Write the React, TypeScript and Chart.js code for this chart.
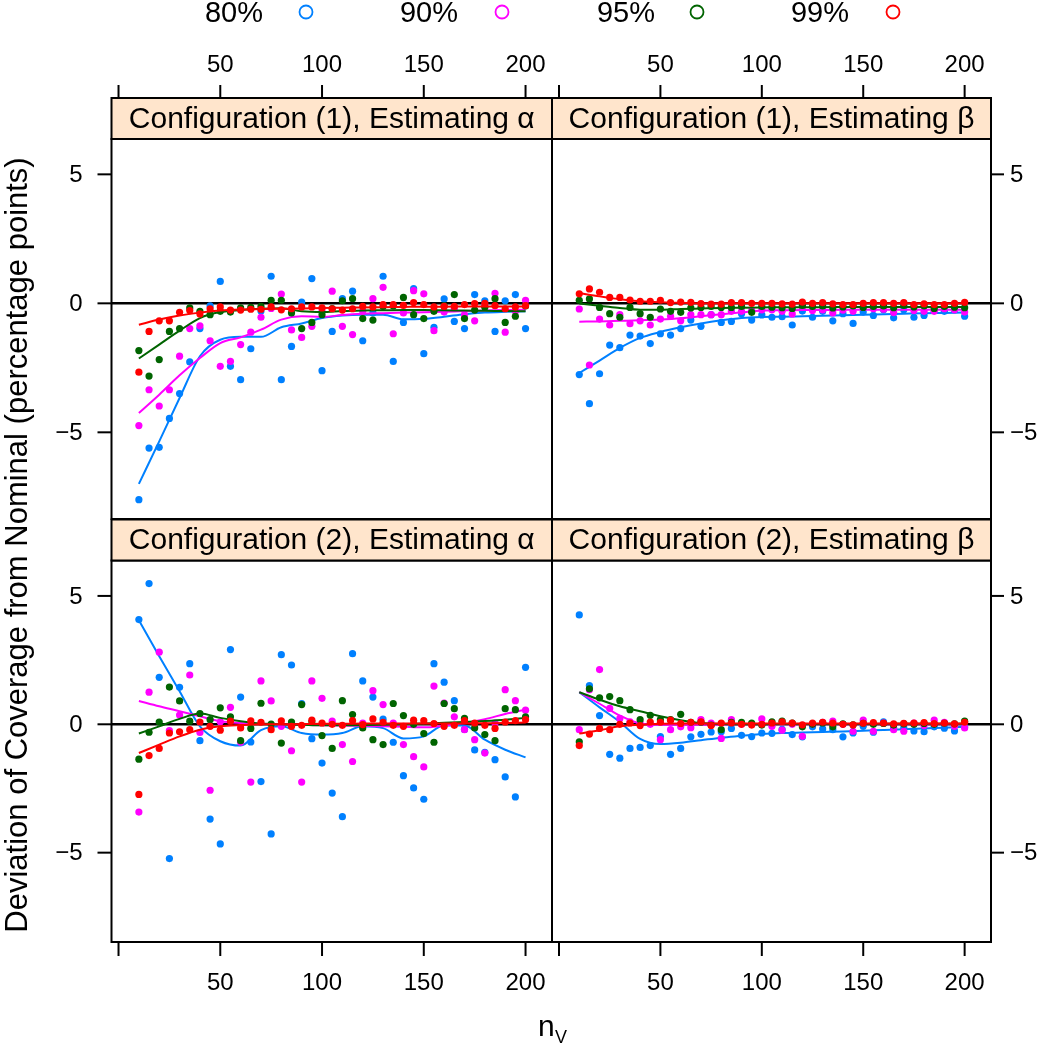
import React, { useEffect, useRef } from "react";
import { Chart, registerables } from "chart.js";
Chart.register(...registerables);

const W = 1050;
const H = 1044;
const FONT = '"Liberation Sans", Arial, Helvetica, sans-serif';

// ---------------- data ----------------
const N_VALUES = [10, 15, 20, 25, 30, 35, 40, 45, 50, 55, 60, 65, 70, 75, 80, 85, 90, 95, 100, 105, 110, 115, 120, 125, 130, 135, 140, 145, 150, 155, 160, 165, 170, 175, 180, 185, 190, 195, 200];
const N_SMOOTH = [10, 20, 30, 40, 50, 60, 70, 80, 90, 100, 110, 120, 130, 140, 150, 160, 170, 180, 190, 200];

const LEVELS = ["80%", "90%", "95%", "99%"];
const COLORS = ["#0080ff", "#ff00ff", "#006400", "#ff0000"];
const PANEL_TITLES = [
  "Configuration (1), Estimating α",
  "Configuration (1), Estimating β",
  "Configuration (2), Estimating α",
  "Configuration (2), Estimating β",
];
const X_TICKS = [0, 50, 100, 150, 200];
const X_TICK_LABELS = ["", "50", "100", "150", "200"];
const Y_TICKS = [-5, 0, 5];
const Y_TICK_LABELS = ["\u22125", "0", "5"];
const Y_TITLE = "Deviation of Coverage from Nominal (percentage points)";

// Configuration (1), alpha
const TL_80 = [-7.61, -5.61, -5.58, -4.46, -3.5, -2.27, -0.98, -0.1, 0.85, -2.44, -2.96, -1.76, -0.3, 1.05, -2.96, -1.67, 0.05, 0.96, -2.61, -1.09, 0.18, 0.47, -1.45, -0.37, 1.05, -2.25, -0.74, 0.57, -1.95, -0.93, 0.17, -0.7, -0.98, 0.34, 0.1, -1.09, 0.1, 0.34, -0.98];
const TL_90 = [-4.74, -3.35, -3.98, -3.35, -2.05, -0.98, -0.87, -1.45, -2.44, -2.25, -1.6, -1.12, -0.54, -0.2, 0.36, -1.03, -1.32, -0.89, -0.3, 0.47, -0.89, -1.21, -0.31, 0.18, 0.62, -1.18, -0.37, 0.49, 0.37, -1.06, -0.34, -0.2, -0.44, -0.68, -0.1, 0.39, -1.12, -0.31, 0.12];
const TL_95 = [-1.83, -2.82, -2.18, -1.09, -0.98, -0.18, -0.31, -0.44, -0.31, -0.34, -0.18, -0.16, -0.12, 0.12, 0.12, -0.37, -0.98, -0.74, -0.44, -0.2, 0.1, 0.18, -0.59, -0.65, -0.12, -0.1, 0.23, -0.44, -0.59, -0.31, -0.1, 0.34, -0.59, -0.26, -0.15, 0.18, -0.74, -0.5, -0.1];
const TL_99 = [-2.67, -1.09, -0.68, -0.68, -0.35, -0.28, -0.41, -0.21, -0.14, -0.26, -0.26, -0.23, -0.23, -0.14, -0.25, -0.21, -0.14, -0.14, -0.18, -0.21, -0.26, -0.21, -0.12, -0.14, -0.05, -0.05, -0.08, 0.03, -0.05, -0.14, -0.12, -0.12, -0.05, -0.01, 0.0, -0.09, -0.21, -0.14, -0.09];
const TL_80_S = [-7.0, -5.35, -3.67, -2.05, -1.41, -1.3, -1.3, -0.93, -0.78, -0.57, -0.47, -0.44, -0.44, -0.62, -0.6, -0.52, -0.42, -0.36, -0.33, -0.31];
const TL_90_S = [-4.25, -3.54, -2.79, -2.12, -1.54, -1.32, -1.02, -0.63, -0.5, -0.53, -0.45, -0.4, -0.38, -0.36, -0.35, -0.33, -0.3, -0.28, -0.26, -0.25];
const TL_95_S = [-2.14, -1.6, -1.06, -0.57, -0.34, -0.26, -0.21, -0.19, -0.31, -0.34, -0.3, -0.28, -0.27, -0.26, -0.26, -0.27, -0.28, -0.29, -0.3, -0.31];
const TL_99_S = [-0.83, -0.63, -0.47, -0.36, -0.28, -0.24, -0.22, -0.21, -0.2, -0.18, -0.17, -0.16, -0.15, -0.14, -0.13, -0.13, -0.12, -0.12, -0.12, -0.12];

// Configuration (1), beta
const TR_80 = [-2.76, -3.89, -2.73, -1.62, -1.72, -1.23, -1.27, -1.56, -1.18, -1.23, -0.98, -0.65, -0.89, -0.44, -0.74, -0.7, -0.4, -0.65, -0.45, -0.54, -0.52, -0.84, -0.3, -0.54, -0.31, -0.68, -0.4, -0.78, -0.34, -0.47, -0.25, -0.56, -0.25, -0.54, -0.47, -0.28, -0.31, -0.25, -0.5];
const TR_90 = [-0.22, -2.39, -0.61, -0.84, -0.44, -0.79, -0.68, -0.84, -0.61, -0.5, -0.68, -0.44, -0.44, -0.44, -0.44, -0.31, -0.31, -0.28, -0.25, -0.25, -0.31, -0.41, -0.16, -0.28, -0.25, -0.37, -0.26, -0.31, -0.16, -0.21, -0.23, -0.36, 0.0, -0.28, -0.31, -0.31, -0.21, -0.25, -0.34];
const TR_95 = [0.12, 0.17, -0.16, -0.4, -0.54, -0.16, -0.4, -0.54, -0.22, -0.31, -0.35, -0.18, -0.16, -0.12, -0.16, -0.16, -0.12, -0.35, -0.12, -0.15, -0.17, -0.2, -0.08, -0.12, -0.1, -0.18, -0.14, -0.1, -0.16, -0.12, -0.1, -0.17, -0.08, -0.14, -0.1, -0.2, -0.12, -0.15, -0.17];
const TR_99 = [0.37, 0.56, 0.43, 0.23, 0.23, 0.13, 0.08, 0.08, 0.12, 0.03, 0.05, 0.04, -0.01, -0.03, -0.03, 0.03, 0.03, 0.0, 0.0, 0.0, -0.02, -0.03, 0.05, 0.0, 0.03, -0.02, -0.05, -0.05, 0.0, 0.03, 0.03, 0.0, 0.03, -0.05, -0.02, -0.05, -0.05, 0.0, 0.04];
const TR_80_S = [-2.7, -2.22, -1.73, -1.34, -1.11, -0.93, -0.78, -0.66, -0.57, -0.53, -0.52, -0.5, -0.48, -0.46, -0.44, -0.42, -0.4, -0.38, -0.37, -0.36];
const TR_90_S = [-0.71, -0.7, -0.68, -0.66, -0.63, -0.58, -0.5, -0.42, -0.35, -0.28, -0.27, -0.26, -0.26, -0.25, -0.25, -0.25, -0.25, -0.25, -0.25, -0.25];
const TR_95_S = [-0.01, -0.09, -0.18, -0.25, -0.25, -0.22, -0.2, -0.18, -0.17, -0.16, -0.15, -0.15, -0.15, -0.14, -0.14, -0.14, -0.14, -0.14, -0.14, -0.14];
const TR_99_S = [0.4, 0.27, 0.16, 0.08, 0.04, 0.02, 0.0, 0.0, 0.0, 0.0, 0.0, 0.0, 0.0, 0.0, 0.0, 0.0, 0.0, 0.0, 0.0, 0.0];

// Configuration (2), alpha
const BL_80 = [4.08, 5.48, 1.83, -5.23, 1.44, 2.36, -0.64, -3.69, -4.66, 2.91, 1.06, -0.69, -2.23, -4.27, 2.71, 2.31, 0.81, -0.56, -1.51, -2.68, -3.6, 2.75, 1.69, 1.06, 0.2, -0.7, -2.0, -2.48, -2.92, 2.36, 1.64, 0.92, -0.2, -1.0, -1.09, -1.38, -2.05, -2.83, 2.22];
const BL_90 = [-3.42, 1.25, 2.81, -0.25, 0.36, 1.92, -0.32, -2.57, 0.1, 0.66, -0.7, -2.25, 1.69, 0.91, -0.08, -1.03, -2.25, 1.69, 1.01, 0.12, -0.79, -1.45, 0.05, 1.31, 0.77, 0.05, -0.79, -1.26, -1.66, 1.49, 0.83, 0.29, -0.21, -0.6, -1.12, 0.05, 1.35, 0.92, 0.55];
const BL_95 = [-1.36, -0.31, 0.09, 1.45, 0.91, 0.12, 0.42, 0.18, 0.64, 0.29, -0.64, -0.16, 0.82, 0.01, -0.73, 0.09, 0.77, 0.1, -0.44, -0.94, 0.92, 0.38, -0.14, -0.6, -0.79, 0.81, 0.34, 0.0, -0.36, -0.7, 0.81, 0.61, 0.23, -0.14, -0.4, -0.64, 0.61, 0.57, 0.29];
const BL_99 = [-2.73, -1.22, -0.94, -0.34, -0.29, -0.21, 0.09, -0.08, -0.23, 0.12, -0.14, 0.13, 0.08, -0.21, 0.13, -0.08, -0.04, 0.16, 0.05, 0.0, -0.04, 0.14, -0.01, 0.21, 0.08, -0.04, -0.08, 0.16, 0.14, 0.03, -0.08, -0.04, 0.14, 0.05, -0.04, -0.16, 0.09, 0.14, 0.18];
const BL_80_S = [4.05, 2.65, 1.29, -0.08, -0.66, -0.83, -0.23, -0.08, -0.34, -0.4, -0.34, -0.08, -0.15, -0.55, -0.47, -0.05, -0.05, -0.6, -0.99, -1.29];
const BL_90_S = [0.91, 0.7, 0.51, 0.31, 0.12, 0.05, 0.02, 0.0, -0.02, -0.04, -0.05, -0.06, -0.08, -0.1, -0.12, -0.05, 0.05, 0.2, 0.4, 0.57];
const BL_95_S = [-0.36, -0.08, 0.21, 0.42, 0.25, 0.12, 0.03, 0.0, -0.02, -0.04, -0.04, -0.03, -0.02, 0.0, 0.03, 0.06, 0.09, 0.13, 0.18, 0.25];
const BL_99_S = [-1.12, -0.79, -0.47, -0.21, -0.08, -0.03, 0.0, 0.0, 0.01, 0.02, 0.02, 0.03, 0.03, 0.03, 0.03, 0.03, 0.03, 0.04, 0.05, 0.07];

// Configuration (2), beta
const BR_80 = [4.26, 1.51, 0.34, -1.17, -1.32, -0.94, -0.9, -0.83, -0.48, -1.17, -0.94, -0.49, -0.39, -0.3, -0.29, -0.16, -0.43, -0.48, -0.34, -0.35, -0.2, -0.4, -0.49, -0.1, -0.18, -0.21, -0.49, -0.34, -0.08, -0.31, 0.1, -0.14, -0.14, -0.26, -0.29, -0.1, -0.15, -0.26, -0.1];
const BR_90 = [-0.21, 1.35, 2.13, 0.62, 0.23, 0.1, 0.05, 0.0, -0.6, -0.21, -0.1, -0.13, 0.18, 0.05, -0.55, 0.18, 0.0, 0.0, 0.21, -0.08, -0.23, 0.0, -0.47, 0.0, 0.08, 0.12, 0.0, -0.27, 0.16, -0.27, 0.05, -0.21, -0.27, 0.05, -0.05, 0.16, 0.08, -0.08, -0.14];
const BR_95 = [-0.68, 1.38, 1.03, 1.08, 0.92, 0.57, 0.18, 0.35, 0.18, 0.18, 0.39, 0.08, 0.08, -0.03, -0.21, 0.08, 0.08, 0.05, -0.03, 0.1, 0.12, 0.05, -0.1, 0.0, 0.05, -0.1, 0.02, -0.02, 0.04, 0.0, 0.03, -0.03, 0.02, 0.0, 0.03, 0.0, 0.04, 0.02, 0.12];
const BR_99 = [-0.83, -0.38, -0.16, -0.21, 0.0, 0.05, -0.05, 0.09, 0.08, 0.16, 0.03, 0.08, 0.1, -0.05, 0.05, 0.05, 0.0, -0.03, 0.0, 0.05, 0.1, 0.05, -0.02, 0.05, 0.08, 0.05, 0.0, -0.02, 0.04, 0.07, 0.05, 0.02, 0.04, 0.05, 0.07, 0.03, 0.05, 0.02, 0.08];
const BR_80_S = [1.25, 0.66, 0.09, -0.57, -0.77, -0.72, -0.62, -0.52, -0.45, -0.38, -0.34, -0.32, -0.3, -0.28, -0.25, -0.22, -0.19, -0.16, -0.13, -0.1];
const BR_90_S = [1.25, 0.8, 0.34, 0.03, -0.02, -0.02, -0.02, -0.01, 0.0, 0.0, 0.0, 0.0, 0.0, 0.0, 0.0, 0.0, 0.0, 0.0, 0.0, 0.0];
const BR_95_S = [1.25, 0.96, 0.7, 0.51, 0.31, 0.16, 0.05, 0.01, 0.0, 0.0, 0.01, 0.01, 0.01, 0.01, 0.01, 0.02, 0.02, 0.02, 0.02, 0.02];
const BR_99_S = [-0.36, -0.23, -0.08, -0.02, 0.02, 0.03, 0.03, 0.03, 0.03, 0.03, 0.03, 0.03, 0.03, 0.03, 0.03, 0.03, 0.03, 0.03, 0.03, 0.03];

const PANEL_POINTS = [
  [TL_80, TL_90, TL_95, TL_99],
  [TR_80, TR_90, TR_95, TR_99],
  [BL_80, BL_90, BL_95, BL_99],
  [BR_80, BR_90, BR_95, BR_99],
];
const PANEL_SMOOTH = [
  [TL_80_S, TL_90_S, TL_95_S, TL_99_S],
  [TR_80_S, TR_90_S, TR_95_S, TR_99_S],
  [BL_80_S, BL_90_S, BL_95_S, BL_99_S],
  [BR_80_S, BR_90_S, BR_95_S, BR_99_S],
];

// ---------------- layout ----------------
const COL_X = [
  [111.5, 552],
  [552, 991],
];
const ROW_Y = [
  [139, 519],
  [560.5, 942],
];
const ROW_YRANGE = [
  [-8.36, 6.37],
  [-8.48, 6.38],
];
const X_RANGE = [-3.45, 213.0];
const STRIP_H = 41;
const STRIP_BG = "#ffe5cc";
const LEGEND_TEXT_X = [234, 429, 626, 820];
const LEGEND_DOT_X = [306, 502, 697, 893];
const LEGEND_Y = 14;

function makeDecor(idx: number) {
  const col = idx % 2;
  const row = Math.floor(idx / 2);
  return {
    id: "decor" + idx,
    beforeDatasetsDraw(chart: any) {
      const { ctx, chartArea: a, scales } = chart;
      const y0 = scales.y.getPixelForValue(0);
      ctx.save();
      ctx.strokeStyle = "#000";
      ctx.lineWidth = 2.5;
      ctx.beginPath();
      ctx.moveTo(a.left, y0);
      ctx.lineTo(a.right, y0);
      ctx.stroke();
      ctx.restore();
    },
    afterDraw(chart: any) {
      const { ctx, chartArea: a, scales } = chart;
      const xs = scales.x;
      const ys = scales.y;
      ctx.save();
      ctx.strokeStyle = "#000";
      ctx.fillStyle = "#000";
      ctx.lineWidth = 2;
      ctx.strokeRect(a.left, a.top, a.right - a.left, a.bottom - a.top);

      // strip
      const sTop = a.top - STRIP_H;
      ctx.fillStyle = STRIP_BG;
      ctx.fillRect(a.left, sTop, a.right - a.left, STRIP_H);
      ctx.strokeRect(a.left, sTop, a.right - a.left, STRIP_H);
      ctx.fillStyle = "#000";
      ctx.font = `30px ${FONT}`;
      ctx.textAlign = "center";
      ctx.textBaseline = "middle";
      ctx.fillText(PANEL_TITLES[idx], (a.left + a.right) / 2, sTop + STRIP_H / 2 + 1);

      // y axis
      ctx.font = `24px ${FONT}`;
      ctx.lineWidth = 2;
      Y_TICKS.forEach((v, k) => {
        const py = ys.getPixelForValue(v);
        ctx.beginPath();
        if (col === 0) {
          ctx.moveTo(a.left - 14, py);
          ctx.lineTo(a.left, py);
          ctx.stroke();
          ctx.textAlign = "right";
          ctx.fillText(Y_TICK_LABELS[k], a.left - 29, py + 1);
        } else {
          ctx.moveTo(a.right, py);
          ctx.lineTo(a.right + 13, py);
          ctx.stroke();
          ctx.textAlign = "left";
          ctx.fillText(Y_TICK_LABELS[k], a.right + 19, py + 1);
        }
      });

      // x axis
      X_TICKS.forEach((v, k) => {
        const px = xs.getPixelForValue(v);
        ctx.beginPath();
        ctx.textAlign = "center";
        if (row === 0) {
          ctx.moveTo(px, sTop - 13);
          ctx.lineTo(px, sTop);
          ctx.stroke();
          ctx.fillText(X_TICK_LABELS[k], px, sTop - 33);
        } else {
          ctx.moveTo(px, a.bottom);
          ctx.lineTo(px, a.bottom + 14);
          ctx.stroke();
          ctx.fillText(X_TICK_LABELS[k], px, a.bottom + 41);
        }
      });

      if (idx === 0) {
        // legend
        ctx.font = `29px ${FONT}`;
        ctx.textAlign = "center";
        ctx.textBaseline = "middle";
        LEVELS.forEach((lab, k) => {
          ctx.fillStyle = "#000";
          ctx.fillText(lab, LEGEND_TEXT_X[k], LEGEND_Y);
          ctx.strokeStyle = COLORS[k];
          ctx.lineWidth = 1.8;
          ctx.beginPath();
          ctx.arc(LEGEND_DOT_X[k], LEGEND_Y - 2, 6.5, 0, Math.PI * 2);
          ctx.stroke();
        });
        // y title
        ctx.save();
        ctx.fillStyle = "#000";
        ctx.translate(18, 545);
        ctx.rotate(-Math.PI / 2);
        ctx.font = `31px ${FONT}`;
        ctx.textAlign = "center";
        ctx.textBaseline = "middle";
        ctx.fillText(Y_TITLE, 0, 0);
        ctx.restore();
        // x title n_V
        ctx.fillStyle = "#000";
        ctx.textBaseline = "alphabetic";
        ctx.textAlign = "left";
        ctx.font = `30px ${FONT}`;
        ctx.fillText("n", 538, 1036);
        ctx.font = `18px ${FONT}`;
        ctx.fillText("V", 555, 1043);
      }
      ctx.restore();
    },
  };
}

function makeConfig(idx: number): any {
  const col = idx % 2;
  const row = Math.floor(idx / 2);
  const datasets: any[] = [];
  for (let s = 0; s < 4; s++) {
    datasets.push({
      type: "scatter",
      data: N_VALUES.map((n, i) => ({ x: n, y: PANEL_POINTS[idx][s][i] })),
      pointRadius: 3.6,
      pointBackgroundColor: COLORS[s],
      pointBorderWidth: 0,
      pointBorderColor: COLORS[s],
      showLine: false,
      order: 8 - 2 * s,
    });
    datasets.push({
      type: "line",
      data: N_SMOOTH.map((n, i) => ({ x: n, y: PANEL_SMOOTH[idx][s][i] })),
      borderColor: COLORS[s],
      borderWidth: 2,
      pointRadius: 0,
      fill: false,
      cubicInterpolationMode: "monotone",
      order: 7 - 2 * s,
    });
  }
  return {
    type: "scatter",
    data: { datasets },
    options: {
      responsive: false,
      animation: false,
      events: [],
      layout: {
        padding: {
          left: COL_X[col][0],
          right: W - COL_X[col][1],
          top: ROW_Y[row][0],
          bottom: H - ROW_Y[row][1],
        },
      },
      plugins: { legend: { display: false }, tooltip: { enabled: false }, title: { display: false } },
      scales: {
        x: { type: "linear", min: X_RANGE[0], max: X_RANGE[1], display: false },
        y: { type: "linear", min: ROW_YRANGE[row][0], max: ROW_YRANGE[row][1], display: false },
      },
    },
    plugins: [makeDecor(idx)],
  };
}

export default function App() {
  const r0 = useRef<HTMLCanvasElement>(null);
  const r1 = useRef<HTMLCanvasElement>(null);
  const r2 = useRef<HTMLCanvasElement>(null);
  const r3 = useRef<HTMLCanvasElement>(null);
  useEffect(() => {
    const refs = [r0, r1, r2, r3];
    const charts = refs.map((r, i) => new Chart(r.current as HTMLCanvasElement, makeConfig(i)));
    return () => charts.forEach((c) => c.destroy());
  }, []);
  const cs: React.CSSProperties = { position: "absolute", left: 0, top: 0, width: W, height: H };
  return (
    <div style={{ position: "fixed", left: 0, top: 0, width: W, height: H, background: "#fff" }}>
      <canvas ref={r0} width={W} height={H} style={cs} />
      <canvas ref={r1} width={W} height={H} style={cs} />
      <canvas ref={r2} width={W} height={H} style={cs} />
      <canvas ref={r3} width={W} height={H} style={cs} />
    </div>
  );
}
